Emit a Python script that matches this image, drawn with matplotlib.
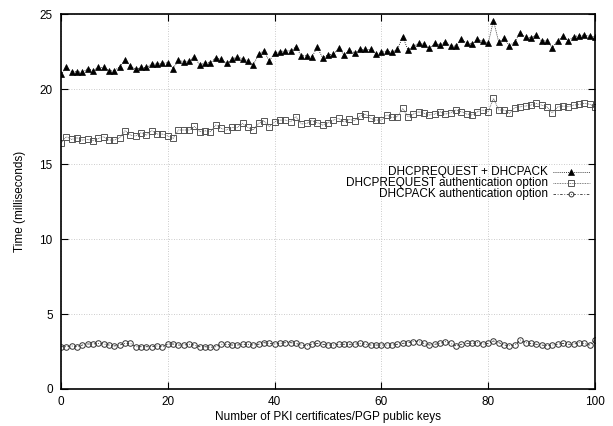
import matplotlib
matplotlib.use('Agg')
import matplotlib.pyplot as plt
from matplotlib.lines import Line2D

plt.rcParams['font.family'] = ['Liberation Sans', 'DejaVu Sans']
plt.rcParams['font.size'] = 8.5

# number of keys
keys = list(range(0, 101))

# DHCPREQUEST + DHCPACK
req_ack = [20.98, 21.44, 21.16, 21.16, 21.11, 21.37, 21.22, 21.44, 21.44, 21.22,
           21.22, 21.49, 21.93, 21.53, 21.31, 21.44, 21.44, 21.67, 21.67, 21.71,
           21.76, 21.37, 21.93, 21.82, 21.87, 22.16, 21.60, 21.76, 21.76, 22.09,
           21.98, 21.71, 21.98, 22.16, 22.00, 21.89, 21.60, 22.31, 22.55, 21.89,
           22.38, 22.49, 22.55, 22.55, 22.82, 22.22, 22.22, 22.16, 22.78, 22.09,
           22.29, 22.31, 22.71, 22.27, 22.60, 22.42, 22.64, 22.64, 22.64, 22.31,
           22.44, 22.55, 22.44, 22.64, 23.49, 22.60, 22.87, 23.04, 23.00, 22.71,
           23.04, 22.93, 23.16, 22.87, 22.87, 23.33, 23.07, 23.00, 23.31, 23.20,
           23.04, 24.56, 23.11, 23.38, 22.87, 23.16, 23.76, 23.44, 23.42, 23.60,
           23.22, 23.22, 22.76, 23.22, 23.53, 23.20, 23.49, 23.56, 23.60, 23.53,
           23.49]

# DHCPREQUEST authentication option
req_auth = [16.42, 16.82, 16.64, 16.76, 16.60, 16.64, 16.56, 16.71, 16.82, 16.60,
            16.60, 16.76, 17.22, 16.93, 16.87, 17.09, 16.93, 17.22, 17.00, 17.00,
            16.87, 16.71, 17.27, 17.27, 17.27, 17.51, 17.16, 17.22, 17.16, 17.60,
            17.38, 17.27, 17.44, 17.44, 17.71, 17.44, 17.27, 17.71, 17.89, 17.49,
            17.82, 17.93, 17.93, 17.82, 18.16, 17.67, 17.71, 17.89, 17.76, 17.60,
            17.76, 17.93, 18.04, 17.82, 17.98, 17.89, 18.20, 18.33, 18.04, 17.93,
            17.93, 18.27, 18.11, 18.16, 18.71, 18.16, 18.33, 18.49, 18.38, 18.27,
            18.33, 18.49, 18.33, 18.42, 18.60, 18.49, 18.34, 18.27, 18.49, 18.60,
            18.49, 19.38, 18.60, 18.60, 18.38, 18.76, 18.82, 18.87, 18.93, 19.04,
            18.93, 18.82, 18.42, 18.80, 18.87, 18.82, 18.93, 18.98, 19.04, 19.00,
            18.82]

# DHCPACK authentication option
ack_auth = [2.82, 2.82, 2.87, 2.82, 2.93, 3.00, 3.00, 3.04, 3.00, 2.93,
            2.87, 2.93, 3.04, 3.04, 2.82, 2.82, 2.82, 2.82, 2.87, 2.82,
            3.00, 3.00, 2.93, 2.93, 2.98, 2.93, 2.82, 2.82, 2.78, 2.82,
            2.98, 2.98, 2.93, 2.93, 2.98, 2.98, 2.93, 2.98, 3.09, 3.04,
            3.00, 3.04, 3.09, 3.09, 3.04, 2.93, 2.87, 3.00, 3.04, 2.98,
            2.93, 2.93, 2.98, 2.98, 2.98, 2.98, 3.04, 2.98, 2.93, 2.93,
            2.93, 2.93, 2.93, 2.98, 3.04, 3.09, 3.16, 3.16, 3.04, 2.93,
            2.98, 3.04, 3.16, 3.04, 2.87, 2.98, 3.04, 3.04, 3.09, 2.98,
            3.04, 3.20, 3.09, 2.93, 2.89, 2.93, 3.27, 3.09, 3.04, 2.98,
            2.93, 2.89, 2.93, 2.98, 3.04, 2.98, 2.98, 3.09, 3.04, 2.93,
            3.27]

labels = ['DHCPREQUEST + DHCPACK',
          'DHCPREQUEST authentication option',
          'DHCPACK authentication option']

fig = plt.figure(figsize=(6.13, 4.26), dpi=100)
ax = fig.add_axes([0.0995, 0.0869, 0.871, 0.880])

styles = [
    dict(color='black', linestyle=(0, (1, 1.5)), linewidth=0.6, marker='^',
         markersize=4.5, markerfacecolor='black', markeredgecolor='black',
         markeredgewidth=0.5),
    dict(color='#555555', linestyle=(0, (1, 1)), linewidth=0.6, marker='s',
         markersize=4.2, markerfacecolor='none', markeredgecolor='#555555',
         markeredgewidth=0.7),
    dict(color='#333333', linestyle=(0, (3, 2, 1, 2)), linewidth=0.6, marker='o',
         markersize=4.0, markerfacecolor='none', markeredgecolor='#333333',
         markeredgewidth=0.7),
]

for ys, lab, st in zip([req_ack, req_auth, ack_auth], labels, styles):
    ax.plot(keys, ys, label=lab, **st)

ax.set_xlim(0, 100)
ax.set_ylim(0, 25)
ax.set_xticks(range(0, 101, 20))
ax.set_yticks(range(0, 26, 5))
ax.grid(True, color='#bbbbbb', linestyle=(0, (1, 2)), linewidth=0.6)
ax.tick_params(direction='in', top=True, right=True, length=5, width=0.8, pad=6)
ax.tick_params(axis='x', pad=5)
for s in ax.spines.values():
    s.set_linewidth(1.2)

ax.set_xlabel('Number of PKI certificates/PGP public keys', labelpad=2)
ax.set_ylabel('Time (milliseconds)', labelpad=10)

# gnuplot style key: right aligned text, sample to the right
row_y = [0.579, 0.549, 0.519]
for yk, lab, st in zip(row_y, labels, styles):
    ax.text(0.912, yk, lab, transform=ax.transAxes, ha='right', va='center')
    ax.add_line(Line2D([0.921, 0.991], [yk, yk], transform=ax.transAxes,
                       color=st['color'], linestyle=st['linestyle'], linewidth=0.6))
    ax.add_line(Line2D([0.956], [yk], transform=ax.transAxes, linestyle='none',
                       marker=st['marker'], markersize=st['markersize'] - 0.5,
                       markerfacecolor=st['markerfacecolor'],
                       markeredgecolor=st['markeredgecolor'],
                       markeredgewidth=st['markeredgewidth']))

fig.savefig('out.png', dpi=100)
